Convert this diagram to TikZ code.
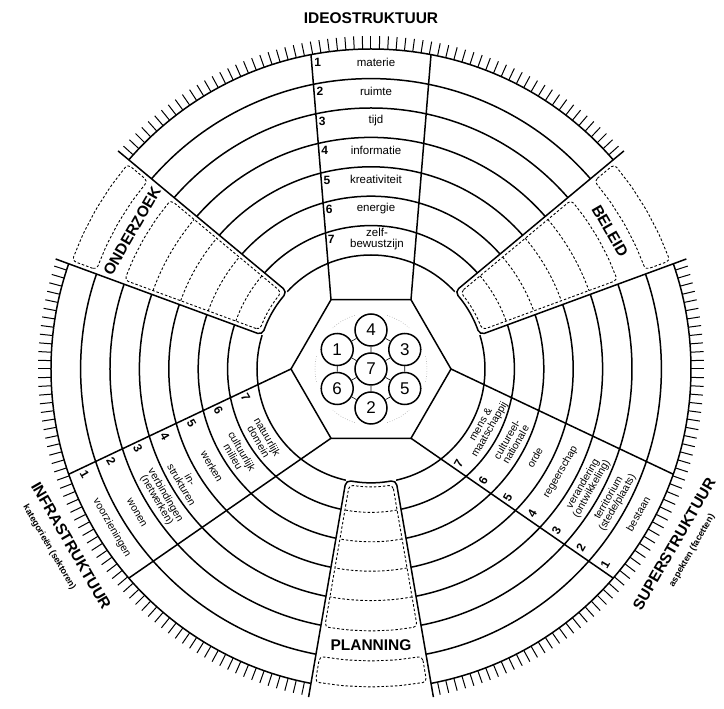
\documentclass[tikz,border=0pt]{standalone}
\usepackage{fontspec}
\setmainfont{Liberation Sans}
\begin{document}
\begin{tikzpicture}[x=1pt,y=1pt,
    ring/.style={line width=1.5pt},
    rimtick/.style={line width=1pt},
    dashbox/.style={line width=.9pt,dash pattern=on 2.5pt off 2pt,rounded corners=4pt},
    head/.style={font=\fontsize{15.5}{17}\selectfont\bfseries,inner sep=0pt},
    subhead/.style={font=\fontsize{9}{10}\selectfont\bfseries,inner sep=0pt},
    lab/.style={font=\fontsize{11.5}{11}\selectfont,align=center,inner sep=0pt},
    slab/.style={font=\fontsize{10.5}{10}\selectfont,align=center,inner sep=0pt},
    num/.style={font=\fontsize{12}{12}\selectfont\bfseries,inner sep=0pt},
    atom/.style={circle,draw,line width=1.5pt,fill=white,minimum size=32pt,inner sep=0pt,font=\fontsize{17}{18}\selectfont},
    bond/.style={line width=.6pt},
    halo/.style={line width=.5pt,gray,dotted}]
\fill[white] (-371,-340) rectangle (353,369);
\useasboundingbox (-371,-340) rectangle (353,369);
\foreach \r in {114,143.4,172.8,202.2,231.6,261,290.4,320}
  \draw[ring] (0,0) circle[radius=\r];
\foreach \a in {0,1.5,...,358.5}
  \draw[rimtick] (\a:320) -- (\a:333);
\foreach \rot/\txt/\turn/\nm in {-60/BELEID/-60/beleid,60/ONDERZOEK/60/onderzoek,180/PLANNING/0/planning}{
  \begin{scope}[rotate=\rot]
    \fill[white] (-66.5,352) -- (102.67:113) -- (77.33:113) -- (66.5,352) -- cycle;
    \draw[ring,rounded corners=5pt] (-62.4,328.1) -- (102.67:114) -- (96:114) -- (90:114) -- (84:114) -- (77.33:114) -- (62.4,328.1);
    \draw[dashbox] (100.63:118) -- (100.16:262) -- (95:262) -- (90:262) -- (85:262) -- (79.84:262) -- (79.37:118) -- (85:118) -- (90:118) -- (95:118) -- cycle;
    \foreach \r/\a/\b in {143.4/100.48/79.52,172.8/100.36/79.64,202.2/100.27/79.73,231.6/100.21/79.79}
      \draw[dashbox] (\a:\r) arc[start angle=\a,end angle=\b,radius=\r];
    \draw[dashbox] (100.12:292) -- (100.09:318) -- (95:318) -- (90:318) -- (85:318) -- (79.91:318) -- (79.88:292) -- (85:292) -- (90:292) -- (95:292) -- cycle;
    \node[head,rotate=\turn] (\nm) at (90:276) {\txt};
  \end{scope}
}
\foreach \rot in {0,120,-120}{
  \begin{scope}[rotate=\rot]
    \draw[ring] (120:80) -- (-60,314.3);
    \draw[ring] (60:80) -- (60,314.3);
  \end{scope}
}
\draw[ring] (0:80) -- (60:80) -- (120:80) -- (180:80) -- (240:80) -- (300:80) -- cycle;
\foreach \c in {0,60,...,300}
  \draw[halo] (\c-13:56) arc[start angle=\c-13,end angle=\c+13,radius=56];
\node[atom] (a7) at (0,0) {7};
\node[atom] (a4) at (90:39) {4};
\node[atom] (a3) at (30:39) {3};
\node[atom] (a5) at (-30:39) {5};
\node[atom] (a2) at (-90:39) {2};
\node[atom] (a6) at (210:39) {6};
\node[atom] (a1) at (150:39) {1};
\draw[bond] (a1) -- (a4) (a4) -- (a3) (a3) -- (a5) (a5) -- (a2) (a2) -- (a6) (a6) -- (a1);
\draw[bond] (a7) -- (a1) (a7) -- (a4) (a7) -- (a3) (a7) -- (a5) (a7) -- (a2) (a7) -- (a6);
\node[head] (ideo) at (90:351) {IDEOSTRUKTUUR};
\node[num] (ideo-n1) at (99.85:311.6) {1};
\node[lab] (ideo-1) at (5,307) {materie};
\node[num] (ideo-n2) at (100.41:282.2) {2};
\node[lab] (ideo-2) at (5,278) {ruimte};
\node[num] (ideo-n3) at (101.10:252.8) {3};
\node[lab] (ideo-3) at (5,248.5) {tijd};
\node[num] (ideo-n4) at (101.97:223.4) {4};
\node[lab] (ideo-4) at (5,219) {informatie};
\node[num] (ideo-n5) at (103.13:194) {5};
\node[lab] (ideo-5) at (5,189.5) {kreativiteit};
\node[num] (ideo-n6) at (104.73:164.6) {6};
\node[lab] (ideo-6) at (5,160) {energie};
\node[num] (ideo-n7) at (107.08:135.2) {7};
\node[lab] (ideo-7) at (6,129.5) {zelf-\\bewustzijn};
\node[head,rotate=-60] (infra) at (210.5:348) {INFRASTRUKTUUR};
\node[subhead,rotate=-60] (infra-sub) at (209:368) {kategorieën (sektoren)};
\node[num,rotate=-60] (infra-n1) at (200.15:305.1) {1};
\node[slab,rotate=-60] (infra-1) at (211.5:304) {voorzieningen};
\node[num,rotate=-60] (infra-n2) at (199.59:275.7) {2};
\node[slab,rotate=-60] (infra-2) at (211.5:274.7) {wonen};
\node[num,rotate=-60] (infra-n3) at (198.90:246.3) {3};
\node[slab,rotate=-60] (infra-3) at (211.5:246.3) {verbindingen\\(netwerken)};
\node[num,rotate=-60] (infra-n4) at (198.03:216.9) {4};
\node[slab,rotate=-60] (infra-4) at (211.5:216.9) {in-\\strukturen};
\node[num,rotate=-60] (infra-n5) at (196.87:187.5) {5};
\node[slab,rotate=-60] (infra-5) at (211.5:186.5) {werken};
\node[num,rotate=-60] (infra-n6) at (195.27:158.1) {6};
\node[slab,rotate=-60] (infra-6) at (212.5:158.1) {cultuurlijk\\milieu};
\node[num,rotate=-60] (infra-n7) at (192.92:128.7) {7};
\node[slab,rotate=-60] (infra-7) at (213:128.7) {natuurlijk\\domein};
\node[head,rotate=60] (super) at (330:350) {SUPERSTRUKTUUR};
\node[subhead,rotate=60] (super-sub) at (330.5:369) {aspekten (facetten)};
\node[num,rotate=60] (super-n1) at (320.15:305.1) {1};
\node[slab,rotate=60] (super-1) at (331.5:304) {bestaan};
\node[num,rotate=60] (super-n2) at (319.59:275.7) {2};
\node[slab,rotate=60] (super-2) at (331.5:275.7) {territorium\\(stede/plaats)};
\node[num,rotate=60] (super-n3) at (318.90:246.3) {3};
\node[slab,rotate=60] (super-3) at (331.5:246.3) {verandering\\(ontwikkeling)};
\node[num,rotate=60] (super-n4) at (318.03:216.9) {4};
\node[slab,rotate=60] (super-4) at (331.5:215.9) {regeerschap};
\node[num,rotate=60] (super-n5) at (316.87:187.5) {5};
\node[slab,rotate=60] (super-5) at (331.5:186.5) {orde};
\node[num,rotate=60] (super-n6) at (315.27:158.1) {6};
\node[slab,rotate=60] (super-6) at (332.5:158.1) {cultureel-\\nationale};
\node[num,rotate=60] (super-n7) at (312.92:128.7) {7};
\node[slab,rotate=60] (super-7) at (333:128.7) {mens \&\\maatschappij};
\end{tikzpicture}
\end{document}
